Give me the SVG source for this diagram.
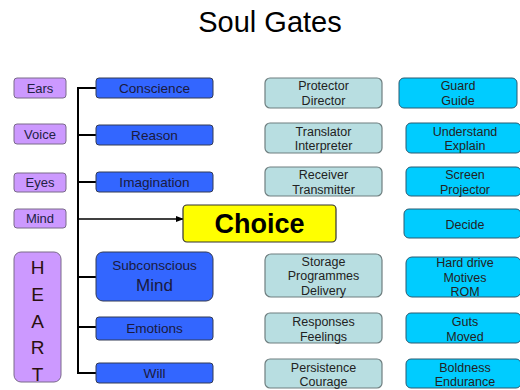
<svg xmlns="http://www.w3.org/2000/svg" width="520" height="390" viewBox="0 0 520 390">
<style>
text{font-family:"Liberation Sans",Arial,sans-serif;text-anchor:middle}
.p{fill:#CC99FF;stroke:#7a6a8a;stroke-width:1}
.b{fill:#3366FF;stroke:#333a55;stroke-width:1}
.l{fill:#B8DEE1;stroke:#6f7f80;stroke-width:1.2}
.c{fill:#00CCFF;stroke:#2a5a70;stroke-width:1}
.t{font-size:13px;fill:#222244}
.bt{font-size:13.6px;fill:#1a1a40}
.r{font-size:12.5px;fill:#222}
.con{stroke:#000;stroke-width:2;fill:none}
</style>
<defs>
<marker id="ah" markerWidth="8" markerHeight="8" refX="7" refY="4" orient="auto" markerUnits="userSpaceOnUse">
<path d="M0,1 L8,4 L0,7 z" fill="#000"/>
</marker>
</defs>
<rect width="520" height="390" fill="#fff"/>
<text x="270" y="32" style="font-size:29px;fill:#000">Soul Gates</text>

<g id="connectors">
<line class="con" x1="78" y1="87" x2="78" y2="374"/>
<line class="con" x1="77" y1="88" x2="96" y2="88"/>
<line class="con" x1="77" y1="135" x2="96" y2="135"/>
<line class="con" x1="77" y1="182" x2="96" y2="182"/>
<line class="con" x1="77" y1="277" x2="96" y2="277"/>
<line class="con" x1="77" y1="327" x2="96" y2="327"/>
<line class="con" x1="77" y1="373" x2="96" y2="373"/>
<line x1="77" y1="219" x2="183" y2="219" stroke="#000" stroke-width="1.5" marker-end="url(#ah)"/>
</g>

<g id="ears"><rect class="p" x="14" y="78" width="52" height="20" rx="3"/><text class="t" x="40" y="93">Ears</text></g>
<g id="voice"><rect class="p" x="14" y="124" width="52" height="20" rx="3"/><text class="t" x="40" y="139">Voice</text></g>
<g id="eyes"><rect class="p" x="14" y="173" width="52" height="19" rx="3"/><text class="t" x="40" y="187">Eyes</text></g>
<g id="mind"><rect class="p" x="14" y="209" width="52" height="19" rx="3"/><text class="t" x="40" y="223">Mind</text></g>
<g id="heart"><rect class="p" x="14" y="252" width="47" height="130" rx="7"/>
<g style="font-size:19px;fill:#2a1010">
<text x="37.5" y="274">H</text><text x="37.5" y="301">E</text><text x="37.5" y="328">A</text><text x="37.5" y="354">R</text><text x="37.5" y="381">T</text></g></g>

<g id="conscience"><rect class="b" x="96" y="78" width="117" height="20" rx="3"/><text class="bt" x="154.5" y="93">Conscience</text></g>
<g id="reason"><rect class="b" x="96" y="125" width="117" height="20" rx="3"/><text class="bt" x="154.5" y="140">Reason</text></g>
<g id="imagination"><rect class="b" x="96" y="172" width="117" height="20" rx="3"/><text class="bt" x="154.5" y="187">Imagination</text></g>
<g id="subconscious"><rect class="b" x="96" y="252" width="117" height="49" rx="7"/><text class="bt" x="154.5" y="270">Subconscious</text><text class="bt" x="154.5" y="291" style="font-size:17px">Mind</text></g>
<g id="emotions"><rect class="b" x="96" y="317" width="117" height="23" rx="3"/><text class="bt" x="154.5" y="333">Emotions</text></g>
<g id="will"><rect class="b" x="96" y="363" width="117" height="20" rx="3"/><text class="bt" x="154.5" y="378">Will</text></g>

<g id="choice"><rect x="183" y="205" width="153" height="37" rx="4" fill="#FFFF00" stroke="#333" stroke-width="1.2"/><text x="259.5" y="233" style="font-size:27px;font-weight:bold;fill:#000">Choice</text></g>

<g id="protector"><rect class="l" x="265" y="78" width="117" height="30" rx="5"/><text class="r" x="323.5" y="90">Protector</text><text class="r" x="323.5" y="105">Director</text></g>
<g id="translator"><rect class="l" x="265" y="123" width="117" height="30" rx="5"/><text class="r" x="323.5" y="136">Translator</text><text class="r" x="323.5" y="150">Interpreter</text></g>
<g id="receiver"><rect class="l" x="265" y="167" width="117" height="29" rx="5"/><text class="r" x="323.5" y="179">Receiver</text><text class="r" x="323.5" y="194">Transmitter</text></g>
<g id="storage"><rect class="l" x="265" y="254" width="117" height="43" rx="6"/><text class="r" x="323.5" y="266">Storage</text><text class="r" x="323.5" y="280">Programmes</text><text class="r" x="323.5" y="295">Delivery</text></g>
<g id="responses"><rect class="l" x="265" y="313" width="117" height="30" rx="5"/><text class="r" x="323.5" y="326">Responses</text><text class="r" x="323.5" y="341">Feelings</text></g>
<g id="persistence"><rect class="l" x="265" y="359" width="117" height="29" rx="5"/><text class="r" x="323.5" y="372">Persistence</text><text class="r" x="323.5" y="386">Courage</text></g>

<g id="guard"><rect class="c" x="399" y="78" width="118" height="30" rx="5"/><text class="r" x="458" y="90">Guard</text><text class="r" x="458" y="105">Guide</text></g>
<g id="understand"><rect class="c" x="406" y="123" width="115" height="30" rx="5"/><text class="r" x="465" y="136">Understand</text><text class="r" x="465" y="150">Explain</text></g>
<g id="screen"><rect class="c" x="406" y="167" width="115" height="29" rx="5"/><text class="r" x="465" y="179">Screen</text><text class="r" x="465" y="194">Projector</text></g>
<g id="decide"><rect class="c" x="404" y="209" width="117" height="29" rx="5"/><text class="r" x="465" y="229">Decide</text></g>
<g id="harddrive"><rect class="c" x="406" y="257" width="115" height="40" rx="6"/><text class="r" x="465" y="267">Hard drive</text><text class="r" x="465" y="282">Motives</text><text class="r" x="465" y="296">ROM</text></g>
<g id="guts"><rect class="c" x="406" y="313" width="115" height="30" rx="5"/><text class="r" x="465" y="326">Guts</text><text class="r" x="465" y="341">Moved</text></g>
<g id="boldness"><rect class="c" x="406" y="359" width="115" height="29" rx="5"/><text class="r" x="465" y="372">Boldness</text><text class="r" x="465" y="386">Endurance</text></g>
</svg>
